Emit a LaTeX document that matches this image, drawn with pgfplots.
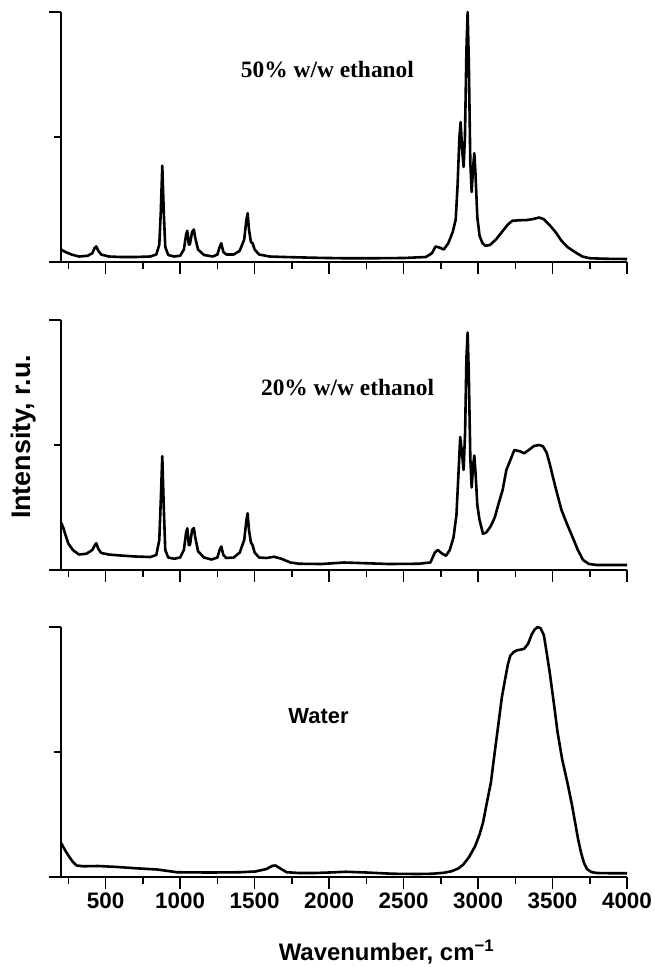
\documentclass[border=0pt]{standalone}
\usepackage{fontspec}
\setmainfont{Liberation Sans}
\newfontfamily\serifb{Liberation Serif}
\usepackage{pgfplots}
\pgfplotsset{compat=1.18}

\pgfplotsset{
  panel/.style={
    scale only axis, width=566bp, height=250bp,
    xmin=200, xmax=4000, ymin=0, ymax=1,
    axis x line*=bottom, axis y line*=left,
    axis line style={-, line width=1.5bp, black},
    every tick/.style={black, line width=1.5bp},
    tick align=outside,
    xtick={500,1000,...,4000}, minor xtick={250,750,...,3750},
    ytick={0,1}, minor ytick={0.5},
    major tick length=12bp, minor tick length=7bp,
    yticklabels={},
    clip=false,
    /pgf/number format/assume math mode=true,
    /pgf/number format/1000 sep={},
    ticklabel style={font=\bfseries\fontsize{22.5}{22.5}\selectfont},
  },
  spec/.style={black, line width=2.6bp, line join=round, no marks},
}

\begin{document}
\begin{tikzpicture}
\useasboundingbox (0,0) rectangle (655bp,-967bp);

% ---------- Panel 1: 50% w/w ethanol ----------
\begin{axis}[panel, at={(61bp,-262bp)}, anchor=south west, xticklabels={}]
\addplot[spec] coordinates {
(200,0.05) (230,0.04) (270,0.03) (320,0.022) (380,0.025) (410,0.035) (425,0.055) (437,0.062) (450,0.045) (470,0.03)
(520,0.022) (600,0.02) (700,0.02) (800,0.022) (840,0.03) (860,0.07) (870,0.2) (880,0.385) (890,0.2) (900,0.06)
(920,0.028) (960,0.022) (1000,0.025) (1025,0.05) (1040,0.11) (1048,0.125) (1058,0.07) (1065,0.07) (1080,0.12) (1092,0.13)
(1100,0.1) (1120,0.05) (1160,0.028) (1220,0.022) (1250,0.03) (1265,0.06) (1276,0.075) (1290,0.04) (1310,0.03) (1360,0.03)
(1400,0.045) (1430,0.09) (1445,0.17) (1453,0.195) (1462,0.13) (1475,0.08) (1486,0.075) (1500,0.05) (1530,0.03) (1600,0.022)
(1700,0.02) (1900,0.017) (2100,0.015) (2300,0.015) (2500,0.016) (2650,0.02) (2690,0.035) (2715,0.062) (2740,0.058) (2770,0.05)
(2800,0.075) (2830,0.12) (2850,0.17) (2862,0.3) (2875,0.5) (2883,0.56) (2893,0.45) (2903,0.38) (2912,0.5) (2922,0.85)
(2930,1.0) (2938,0.8) (2948,0.4) (2957,0.28) (2967,0.38) (2975,0.435) (2983,0.35) (2995,0.18) (3010,0.105) (3030,0.075)
(3050,0.065) (3080,0.068) (3120,0.09) (3160,0.12) (3200,0.15) (3230,0.165) (3280,0.167) (3330,0.168) (3370,0.172) (3410,0.178)
(3440,0.172) (3480,0.148) (3520,0.12) (3560,0.085) (3600,0.06) (3650,0.04) (3700,0.022) (3750,0.015) (3850,0.013) (4000,0.012)
};
\node[font=\serifb\bfseries\fontsize{23.5}{24}\selectfont] at (axis cs:1989,0.768) {50\% w/w ethanol};
\end{axis}

% ---------- Panel 2: 20% w/w ethanol ----------
\begin{axis}[panel, at={(61bp,-570bp)}, anchor=south west, xticklabels={},
  ylabel={Intensity, r.u.},
  ylabel style={at={(axis description cs:-0.067,0.532)}, anchor=center, font=\bfseries\fontsize{27}{27}\selectfont}]
\addplot[spec] coordinates {
(200,0.19) (215,0.17) (230,0.14) (250,0.105) (280,0.08) (320,0.062) (370,0.065) (410,0.08) (428,0.1) (437,0.107)
(450,0.085) (470,0.068) (520,0.062) (600,0.058) (700,0.054) (800,0.052) (840,0.06) (860,0.12) (870,0.28) (880,0.455)
(890,0.25) (900,0.08) (920,0.05) (960,0.045) (1000,0.05) (1025,0.08) (1040,0.15) (1048,0.167) (1058,0.1) (1066,0.1)
(1080,0.16) (1092,0.168) (1100,0.135) (1120,0.075) (1160,0.05) (1210,0.042) (1250,0.05) (1265,0.08) (1276,0.094) (1290,0.06)
(1310,0.048) (1360,0.05) (1400,0.07) (1430,0.12) (1445,0.2) (1453,0.227) (1462,0.16) (1475,0.11) (1486,0.1) (1500,0.07)
(1530,0.05) (1580,0.048) (1630,0.053) (1680,0.045) (1740,0.03) (1800,0.025) (1950,0.024) (2100,0.03) (2200,0.028) (2400,0.024)
(2600,0.025) (2680,0.03) (2710,0.07) (2730,0.08) (2760,0.065) (2785,0.057) (2810,0.08) (2835,0.13) (2855,0.22) (2868,0.38)
(2880,0.532) (2890,0.48) (2903,0.4) (2913,0.55) (2922,0.85) (2930,0.95) (2938,0.78) (2948,0.45) (2957,0.33) (2967,0.42)
(2975,0.458) (2984,0.38) (2995,0.26) (3010,0.2) (3033,0.145) (3055,0.15) (3085,0.175) (3112,0.21) (3140,0.27) (3165,0.32)
(3190,0.4) (3217,0.44) (3244,0.48) (3280,0.475) (3310,0.467) (3340,0.48) (3376,0.496) (3410,0.5) (3435,0.495) (3460,0.47)
(3481,0.425) (3520,0.33) (3560,0.24) (3600,0.18) (3639,0.125) (3670,0.08) (3705,0.04) (3745,0.024) (3800,0.02) (4000,0.02)
};
\node[font=\serifb\bfseries\fontsize{23.5}{24}\selectfont] at (axis cs:2124,0.728) {20\% w/w ethanol};
\end{axis}

% ---------- Panel 3: Water ----------
\begin{axis}[panel, at={(61bp,-877bp)}, anchor=south west,
  xlabel={Wavenumber, cm\textsuperscript{−1}},
  xlabel style={at={(axis description cs:0.575,-0.30)}, anchor=center, font=\bfseries\fontsize{24}{24}\selectfont}]
\addplot[spec] coordinates {
(200,0.137) (215,0.12) (235,0.1) (253,0.083) (280,0.06) (305,0.046) (350,0.043) (450,0.044) (582,0.04) (700,0.035)
(846,0.03) (920,0.024) (978,0.019) (1200,0.018) (1400,0.019) (1504,0.022) (1580,0.032) (1620,0.045) (1640,0.046) (1670,0.035)
(1715,0.019) (1800,0.016) (1900,0.016) (2000,0.018) (2111,0.021) (2250,0.018) (2427,0.013) (2600,0.012) (2690,0.013) (2770,0.017)
(2822,0.023) (2870,0.035) (2901,0.05) (2940,0.08) (2980,0.123) (3010,0.17) (3033,0.217) (3060,0.3) (3086,0.377) (3110,0.49)
(3138,0.618) (3160,0.72) (3178,0.779) (3200,0.85) (3217,0.886) (3240,0.9) (3257,0.906) (3290,0.91) (3310,0.913) (3336,0.933)
(3360,0.97) (3380,0.99) (3400,1.0) (3420,0.995) (3442,0.967) (3460,0.9) (3481,0.819) (3510,0.69) (3534,0.578) (3565,0.47)
(3600,0.377) (3630,0.29) (3652,0.217) (3672,0.15) (3692,0.096) (3712,0.055) (3731,0.032) (3760,0.02) (3797,0.016) (3900,0.015)
(4000,0.015)
};
\node[font=\bfseries\fontsize{22}{22}\selectfont] at (axis cs:1929,0.644) {Water};
\end{axis}
\end{tikzpicture}
\end{document}
